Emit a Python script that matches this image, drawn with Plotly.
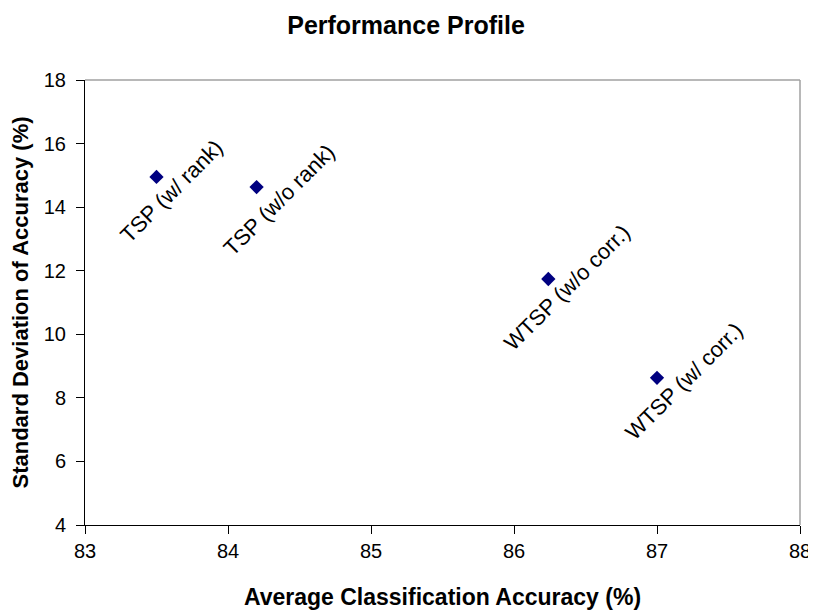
import plotly.graph_objects as go

# Data
methods = ["TSP (w/ rank)", "TSP (w/o rank)", "WTSP (w/o corr.)", "WTSP (w/ corr.)"]
avg_accuracy = [83.50, 84.20, 86.24, 87.00]
std_accuracy = [14.95, 14.63, 11.74, 8.63]

x_ticks = [83, 84, 85, 86, 87, 88]
y_ticks = [4, 6, 8, 10, 12, 14, 16, 18]

# label offsets in pixels (styling)
label_shift = [(15, -15), (22, -13), (19, -9), (27, -4)]

FONT = "Liberation Sans, Arial, sans-serif"

fig = go.Figure()
fig.add_trace(go.Scatter(
    x=avg_accuracy, y=std_accuracy, mode="markers",
    marker=dict(symbol="diamond", size=11, color="#000080"),
    hoverinfo="x+y", showlegend=False, cliponaxis=False,
))

for m, xv, yv, (dx, dy) in zip(methods, avg_accuracy, std_accuracy, label_shift):
    fig.add_annotation(x=xv, y=yv, text=m, showarrow=False, textangle=-45,
                       xshift=dx, yshift=dy, xanchor="center", yanchor="middle",
                       font=dict(family=FONT, size=22, color="#000"))

# page body has an 8px margin, so the figure is sized/offset to compensate
fig.update_layout(
    width=808, height=602,
    margin=dict(l=77, r=16, t=72, b=85, autoexpand=False),
    paper_bgcolor="white", plot_bgcolor="white",
    title=dict(text="<b>Performance Profile</b>", x=398 / 808, xref="container",
               y=1 - 17 / 602, yref="container", xanchor="center", yanchor="middle",
               font=dict(family=FONT, size=25, color="#000")),
    xaxis=dict(range=[83, 88], tickvals=x_ticks, ticktext=[str(v) for v in x_ticks],
               automargin=False,
               showgrid=False, zeroline=False, showline=True, linecolor="#000", linewidth=1,
               ticks="outside", ticklen=8, tickcolor="#000",
               tickfont=dict(family=FONT, size=20, color="#000"),
               title=dict(text="<b>Average Classification Accuracy (%)</b>", standoff=27,
                          font=dict(family=FONT, size=23, color="#000"))),
    yaxis=dict(range=[4, 18], tickvals=y_ticks, ticktext=[str(v) for v in y_ticks],
               automargin=False, ticklabelstandoff=6,
               showgrid=False, zeroline=False, showline=True, linecolor="#000", linewidth=1,
               ticks="outside", ticklen=8, tickcolor="#000",
               tickfont=dict(family=FONT, size=20, color="#000"),
               title=dict(text="<b>Standard Deviation of Accuracy (%)</b>", standoff=21,
                          font=dict(family=FONT, size=22, color="#000"))),
    shapes=[
        dict(type="line", xref="paper", yref="paper", x0=0, x1=1, y0=1, y1=1,
             line=dict(color="#a0a0a0", width=1.5)),
        dict(type="line", xref="paper", yref="paper", x0=1, x1=1, y0=0, y1=1,
             line=dict(color="#a0a0a0", width=1.5)),
    ],
)

fig.write_html("out.html")
